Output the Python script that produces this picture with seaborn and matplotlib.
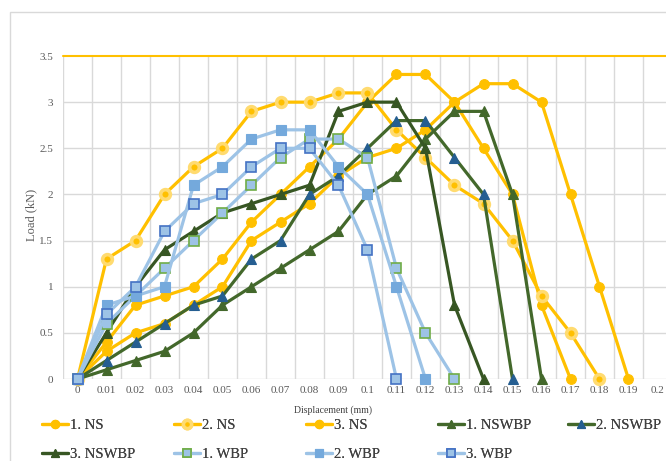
import numpy as np
import pandas as pd
import matplotlib
matplotlib.use("Agg")
import matplotlib.pyplot as plt
import seaborn as sns
from matplotlib.lines import Line2D
from matplotlib.patches import Rectangle

# ---- data ----
disp = [0, 0.01, 0.02, 0.03, 0.04, 0.05, 0.06, 0.07, 0.08, 0.09, 0.1,
        0.11, 0.12, 0.13, 0.14, 0.15, 0.16, 0.17, 0.18, 0.19, 0.2]
tick_labels = ["0", "0.01", "0.02", "0.03", "0.04", "0.05", "0.06", "0.07", "0.08", "0.09", "0.1",
               "0.11", "0.12", "0.13", "0.14", "0.15", "0.16", "0.17", "0.18", "0.19", "0.2"]
ns1 = [0, 0.4, 0.8, 0.9, 1.0, 1.3, 1.7, 2.0, 2.3, 2.6, 3.0, 3.3, 3.3, 3.0, 2.5, 2.0, 0.8, 0]
ns2 = [0, 1.3, 1.5, 2.0, 2.3, 2.5, 2.9, 3.0, 3.0, 3.1, 3.1, 2.7, 2.4, 2.1, 1.9, 1.5, 0.9, 0.5, 0]
ns3 = [0, 0.3, 0.5, 0.6, 0.8, 1.0, 1.5, 1.7, 1.9, 2.2, 2.4, 2.5, 2.7, 3.0, 3.2, 3.2, 3.0, 2.0, 1.0, 0]
nswbp1 = [0, 0.1, 0.2, 0.3, 0.5, 0.8, 1.0, 1.2, 1.4, 1.6, 2.0, 2.2, 2.6, 2.9, 2.9, 2.0, 0]
nswbp2 = [0, 0.2, 0.4, 0.6, 0.8, 0.9, 1.3, 1.5, 2.0, 2.2, 2.5, 2.8, 2.8, 2.4, 2.0, 0]
nswbp3 = [0, 0.5, 1.0, 1.4, 1.6, 1.8, 1.9, 2.0, 2.1, 2.9, 3.0, 3.0, 2.5, 0.8, 0]
wbp1 = [0, 0.6, 0.9, 1.2, 1.5, 1.8, 2.1, 2.4, 2.6, 2.6, 2.4, 1.2, 0.5, 0]
wbp2 = [0, 0.8, 0.9, 1.0, 2.1, 2.3, 2.6, 2.7, 2.7, 2.3, 2.0, 1.0, 0]
wbp3 = [0, 0.7, 1.0, 1.6, 1.9, 2.0, 2.3, 2.5, 2.5, 2.1, 1.4, 0]
labels = ["1. NS", "2. NS", "3. NS", "1. NSWBP", "2. NSWBP",
          "3. NSWBP", "1. WBP", "2. WBP", "3. WBP"]
series = [ns1, ns2, ns3, nswbp1, nswbp2, nswbp3, wbp1, wbp2, wbp3]

# ---- styles ----
GOLD = "#FFC000"
GREEN1 = "#43682B"
GREEN3 = "#375623"
LBLUE = "#9DC3E6"
styles = [
    dict(color=GOLD, marker="o", ms=7, mfc=GOLD, mec=GOLD, mew=0.8),
    dict(color=GOLD, marker="o", ms=7, mfc=GOLD, mec="#FFDB70", mew=2.6),
    dict(color=GOLD, marker="o", ms=7, mfc=GOLD, mec=GOLD, mew=0.8),
    dict(color=GREEN1, marker="^", ms=7.5, mfc=GREEN1, mec=GREEN1, mew=0.8),
    dict(color=GREEN1, marker="^", ms=7.5, mfc="#255E91", mec="#255E91", mew=0.8),
    dict(color=GREEN3, marker="^", ms=7.5, mfc=GREEN3, mec=GREEN3, mew=0.8),
    dict(color=LBLUE, marker="s", ms=6.5, mfc=LBLUE, mec="#70AD47", mew=1.2),
    dict(color=LBLUE, marker="s", ms=7, mfc="#74A9DC", mec="#74A9DC", mew=0.8),
    dict(color=LBLUE, marker="s", ms=6.5, mfc=LBLUE, mec="#4472C4", mew=1.2),
]

sns.set_theme(style="white")
plt.rcParams["font.family"] = ["Liberation Serif", "DejaVu Serif"]

W, H = 666, 461
fig = plt.figure(figsize=(W / 100, H / 100), dpi=100)
fig.patch.set_facecolor("white")

# chart border
fig.add_artist(Rectangle((10 / W, -0.1), 1.2, (H - 12) / H + 0.1, transform=fig.transFigure,
                         fill=False, edgecolor="#D9D9D9", linewidth=1.0))

left, right = 63, 672
top, bottom = 56, 379
ax = fig.add_axes([left / W, (H - bottom) / H, (right - left) / W, (bottom - top) / H])
ax.set_facecolor("none")

for vals, lab, st in zip(series, labels, styles):
    n = len(vals)
    sns.lineplot(x=disp[:n], y=vals, ax=ax, color=st["color"], linewidth=2.3,
                 marker=st["marker"], markersize=st["ms"], markerfacecolor=st["mfc"],
                 markeredgecolor=st["mec"], markeredgewidth=st["mew"],
                 legend=False, clip_on=False, zorder=3)

ax.set_xlim(-0.005, 0.205)
ax.set_ylim(0, 3.5)
ax.set_xticks(disp)
ax.set_xticklabels(tick_labels)
ax.set_xticks(np.arange(-0.005, 0.2051, 0.01), minor=True)
ax.set_yticks([0, 0.5, 1, 1.5, 2, 2.5, 3, 3.5])
ax.set_yticklabels(["0", "0.5", "1", "1.5", "2", "2.5", "3", "3.5"])
ax.grid(False)
ax.grid(True, which="minor", axis="x", color="#D9D9D9", linewidth=1.0, zorder=0)
for yv in [0, 0.5, 1, 1.5, 2, 2.5, 3]:
    ax.axhline(yv, color="#D9D9D9", linewidth=1.0, zorder=0)
ax.axhline(3.5, color=GOLD, linewidth=1.5, zorder=1, clip_on=False)
for s in ax.spines.values():
    s.set_visible(False)
ax.tick_params(axis="both", which="both", length=0, colors="#595959", labelsize=8)
ax.tick_params(axis="x", pad=5)
ax.tick_params(axis="y", pad=7)
ax.set_xlabel("")
ax.set_ylabel("")

fig.text(31 / W, 1 - 215 / H, "Load (kN)", rotation=90, ha="center", va="center",
         fontsize=9, color="#595959")
fig.text(333 / W, 1 - 410 / H, "Displacement (mm)", ha="center", va="center",
         fontsize=7, color="#404040")

handles = []
for lab, st in zip(labels, styles):
    handles.append(Line2D([0], [0], color=st["color"], linewidth=2.3, marker=st["marker"],
                          markersize=st["ms"] * 0.85, markerfacecolor=st["mfc"],
                          markeredgecolor=st["mec"], markeredgewidth=st["mew"], label=lab))

# one legend per column so the columns sit where they do in the reference
col_x = [42, 174, 306, 438, 568]
for c in range(5):
    idx = [c, c + 5] if c + 5 < len(labels) else [c]
    leg = fig.legend([handles[i] for i in idx], [labels[i] for i in idx], ncol=1,
                     loc="upper left", bbox_to_anchor=(col_x[c] / W, 1 - 419 / H),
                     frameon=False, fontsize=10.5, handlelength=1.75, handletextpad=0.15,
                     labelspacing=1.05, borderaxespad=0, borderpad=0, labelcolor="#404040")
    fig.add_artist(leg)

fig.savefig("out.png", dpi=100)
